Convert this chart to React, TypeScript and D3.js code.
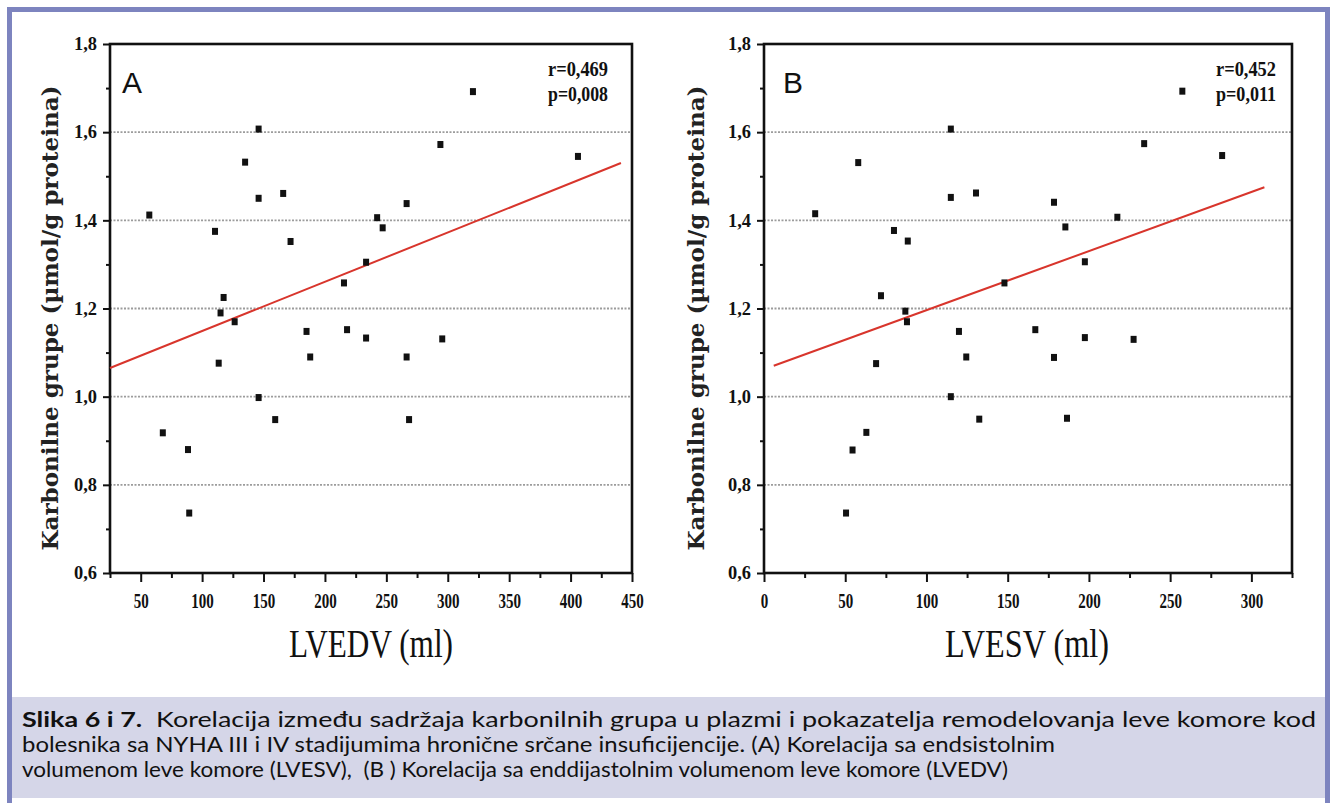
import React, { useEffect, useRef } from 'react'
import * as d3 from 'd3'

// y axis (shared by both panels)
const yTicks = [0.6, 0.8, 1.0, 1.2, 1.4, 1.6, 1.8]
const yMinorTicks = [0.7, 0.9, 1.1, 1.3, 1.5, 1.7]
const gridValues = [0.8, 1.0, 1.2, 1.4, 1.6]

// panel A - LVEDV
const lvedvTicks = [50, 100, 150, 200, 250, 300, 350, 400, 450]
const lvedvMinorTicks = [25, 75, 125, 175, 225, 275, 325, 375, 425]
const lvedvX = [57, 135, 146, 146, 166, 110.5, 172, 242.5, 247, 266.5, 294, 320.5, 406, 215.5, 233.5, 117.5, 115, 126.5, 185, 218, 233.5, 295.5, 113.5, 188, 266.5, 146, 159.5, 268.5, 68, 88.5, 89.5]
const lvedvY = [1.412, 1.532, 1.607, 1.45, 1.461, 1.375, 1.352, 1.406, 1.383, 1.438, 1.572, 1.692, 1.545, 1.258, 1.305, 1.225, 1.19, 1.17, 1.148, 1.152, 1.133, 1.131, 1.076, 1.09, 1.09, 0.998, 0.948, 0.948, 0.918, 0.88, 0.736]
const lvedvFit = [[25, 1.065], [441, 1.53]]

// panel B - LVESV
const lvesvTicks = [0, 50, 100, 150, 200, 250, 300]
const lvesvMinorTicks = [25, 75, 125, 175, 225, 275, 325]
const lvesvX = [31.5, 58, 115, 115, 130.5, 80, 88.5, 178.5, 185.5, 217.5, 234, 257.5, 282, 148, 197.5, 72, 87, 88, 120, 167, 197.5, 227.5, 69, 124.5, 178.5, 115, 132.5, 186.5, 63, 54.5, 50.5]
const lvesvY = [1.415, 1.531, 1.607, 1.452, 1.462, 1.377, 1.353, 1.441, 1.385, 1.407, 1.574, 1.693, 1.547, 1.258, 1.306, 1.229, 1.194, 1.17, 1.148, 1.152, 1.134, 1.13, 1.075, 1.09, 1.089, 1.0, 0.949, 0.951, 0.919, 0.879, 0.736]
const lvesvFit = [[6, 1.07], [308, 1.475]]

const yTitle = 'Karbonilne grupe (\u00b5mol/g proteina)'
const captionLabel = 'Slika 6 i 7.'
const captionLines = [
    '  Korelacija između sadržaja karbonilnih grupa u plazmi i pokazatelja remodelovanja leve komore kod',
    'bolesnika sa NYHA III i IV stadijumima hronične srčane insuficijencije. (A) Korelacija sa endsistolnim',
    'volumenom leve komore (LVESV),  (B ) Korelacija sa enddijastolnim volumenom leve komore (LVEDV)',
]

const serif = "'Liberation Serif', 'Times New Roman', serif"
const fmt = d3.formatLocale({ decimal: ',', thousands: '.', grouping: [3], currency: ['', ''] }).format('.1f')

const drawPanel = (svg, p) => {
    const x = d3.scaleLinear().domain(p.xDomain).range([p.left, p.right])
    const y = d3.scaleLinear().domain([0.6, 1.8]).range([p.bottom, p.top])
    const g = svg.append('g')

    // dotted grid
    g.selectAll('.grid').data(gridValues).enter().append('line')
        .attr('x1', p.left).attr('x2', p.right)
        .attr('y1', d => y(d)).attr('y2', d => y(d))
        .attr('stroke', '#9c9c9c').attr('stroke-width', 1.8)
        .attr('stroke-dasharray', '2,1.5')

    // minor ticks
    g.append('g').attr('transform', 'translate(0,' + p.bottom + ')')
        .call(d3.axisBottom(x).tickValues(p.minor).tickSize(5).tickSizeOuter(0).tickFormat(() => ''))
    g.append('g').attr('transform', 'translate(' + p.left + ',0)')
        .call(d3.axisLeft(y).tickValues(yMinorTicks).tickSize(4).tickSizeOuter(0).tickFormat(() => ''))

    // major ticks + labels
    const xa = g.append('g').attr('transform', 'translate(0,' + p.bottom + ')')
        .call(d3.axisBottom(x).tickValues(p.ticks).tickSize(9).tickSizeOuter(0).tickPadding(12).tickFormat(d3.format('d')))
    xa.selectAll('text')
        .attr('font-family', serif).attr('font-size', 20).attr('font-weight', 'bold').attr('fill', '#111')
        .attr('textLength', d => String(d).length * 7.5)
        .attr('lengthAdjust', 'spacingAndGlyphs')

    const ya = g.append('g').attr('transform', 'translate(' + p.left + ',0)')
        .call(d3.axisLeft(y).tickValues(yTicks).tickSize(7).tickSizeOuter(0).tickPadding(6).tickFormat(fmt))
    ya.selectAll('text')
        .attr('font-family', serif).attr('font-size', 19).attr('font-weight', 'bold').attr('fill', '#111')
        .attr('dy', '0.3em')
        .attr('textLength', 23)
        .attr('lengthAdjust', 'spacingAndGlyphs')

    g.selectAll('.domain').remove()
    g.selectAll('.tick line').attr('stroke', '#111').attr('stroke-width', 2)

    // frame
    g.append('rect')
        .attr('x', p.left).attr('y', p.top)
        .attr('width', p.right - p.left).attr('height', p.bottom - p.top)
        .attr('fill', 'none').attr('stroke', '#111').attr('stroke-width', 2.6)

    // regression line
    const line = d3.line().x(d => x(d[0])).y(d => y(d[1]))
    g.append('path').attr('d', line(p.fit))
        .attr('fill', 'none').attr('stroke', '#d8352c').attr('stroke-width', 2)

    // points
    g.selectAll('.pt').data(p.xs).enter().append('rect')
        .attr('x', d => x(d) - 3)
        .attr('y', (d, i) => y(p.ys[i]) - 3.5)
        .attr('width', 6).attr('height', 7)
        .attr('fill', '#111')

    // panel letter
    g.append('text').attr('x', p.letterX).attr('y', 93)
        .attr('font-family', "'Liberation Sans', Arial, sans-serif").attr('font-size', 30)
        .attr('textLength', 20).attr('lengthAdjust', 'spacingAndGlyphs')
        .attr('fill', '#111').text(p.letter)

    // r / p
    g.append('text').attr('x', p.statX).attr('y', 76).attr('text-anchor', 'end')
        .attr('font-family', serif).attr('font-size', 20).attr('font-weight', 'bold')
        .attr('textLength', 60).attr('lengthAdjust', 'spacingAndGlyphs')
        .attr('fill', '#111').text(p.r)
    g.append('text').attr('x', p.statX).attr('y', 101).attr('text-anchor', 'end')
        .attr('font-family', serif).attr('font-size', 20).attr('font-weight', 'bold')
        .attr('textLength', 60).attr('lengthAdjust', 'spacingAndGlyphs')
        .attr('fill', '#111').text(p.p)

    // axis titles
    g.append('text').attr('x', p.xTitleX).attr('y', 657).attr('text-anchor', 'middle')
        .attr('font-family', serif).attr('font-size', 40)
        .attr('textLength', 164).attr('lengthAdjust', 'spacingAndGlyphs')
        .attr('fill', '#111').text(p.xTitle)
    g.append('text')
        .attr('transform', 'translate(' + p.yTitleX + ',318) rotate(-90)')
        .attr('text-anchor', 'middle')
        .attr('font-family', "'DejaVu Serif', serif").attr('font-size', 23).attr('font-weight', 'bold')
        .attr('textLength', 465).attr('lengthAdjust', 'spacingAndGlyphs')
        .attr('fill', '#222').text(yTitle)
}

const App = () => {
    const ref = useRef(null)

    useEffect(() => {
        const svg = d3.select(ref.current)
        svg.selectAll('*').remove()

        // caption box
        svg.append('rect').attr('x', 12).attr('y', 697).attr('width', 1313).attr('height', 101).attr('fill', '#d5d6e8')

        // outer border
        svg.append('path').attr('d', 'M9.5,803 V9.5 H1327.5 V803')
            .attr('fill', 'none').attr('stroke', '#7d84bf').attr('stroke-width', 5)

        drawPanel(svg, {
            left: 110, right: 632, top: 44, bottom: 573,
            xDomain: [25, 450], ticks: lvedvTicks, minor: lvedvMinorTicks,
            xs: lvedvX, ys: lvedvY, fit: lvedvFit,
            letter: 'A', letterX: 122, statX: 608, r: 'r=0,469', p: 'p=0,008',
            xTitle: 'LVEDV (ml)', xTitleX: 371, yTitleX: 58,
        })
        drawPanel(svg, {
            left: 764, right: 1292, top: 44, bottom: 573,
            xDomain: [0, 325], ticks: lvesvTicks, minor: lvesvMinorTicks,
            xs: lvesvX, ys: lvesvY, fit: lvesvFit,
            letter: 'B', letterX: 783, statX: 1276, r: 'r=0,452', p: 'p=0,011',
            xTitle: 'LVESV (ml)', xTitleX: 1027, yTitleX: 704,
        })

        // caption text
        const cap = svg.append('g')
            .attr('font-family', "Lato, 'Open Sans', sans-serif").attr('font-size', 20.5).attr('fill', '#111')
        const widths = [1294, 1033, 986]
        captionLines.forEach((t, i) => {
            const txt = cap.append('text').attr('x', 22).attr('y', 727 + i * 25)
                .attr('textLength', widths[i]).attr('lengthAdjust', 'spacingAndGlyphs')
                .attr('xml:space', 'preserve').style('white-space', 'pre')
            if (i === 0) txt.append('tspan').attr('font-weight', 'bold').text(captionLabel)
            txt.append('tspan').text(t)
        })
    }, [])

    return (
        <svg ref={ref} width={1330} height={803}
            style={{ position: 'absolute', left: 0, top: 0, background: '#fff' }} />
    )
}

export default App
